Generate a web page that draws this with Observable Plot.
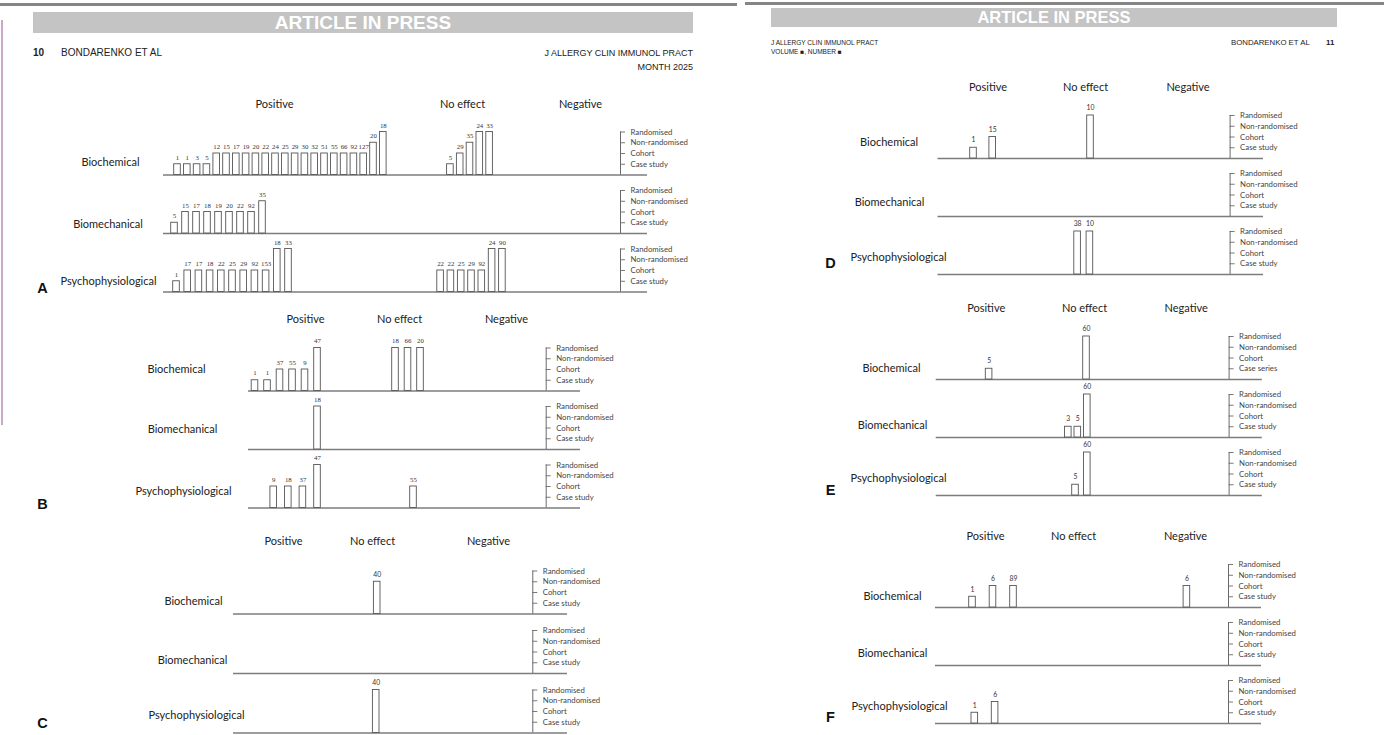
<!DOCTYPE html>
<html>
<head>
<meta charset="utf-8">
<script src="https://cdn.jsdelivr.net/npm/d3@7"></script>
<script src="https://cdn.jsdelivr.net/npm/@observablehq/plot@0.6"></script>
<style>
  body { margin: 0; background: #fff; }
  #page { position: relative; width: 1384px; height: 735px; overflow: hidden; font-family: "Liberation Sans", Arial, sans-serif; color: #222; }
  .abs { position: absolute; white-space: nowrap; }
  .banner { background: #c4c4c4; color: #fff; font-weight: bold; text-align: center; }
</style>
</head>
<body>
<div id="page">
  <div class="abs" style="left:0;top:3px;width:737px;height:3px;background:#858585"></div>
  <div class="abs" style="left:745px;top:2px;width:639px;height:3px;background:#858585"></div>
  <div class="abs" style="left:1px;top:20px;width:2px;height:405px;background:#c9a8c9"></div>

  <div class="abs banner" style="left:33px;top:12px;width:660px;height:21px;font-size:19px;line-height:21px">ARTICLE IN PRESS</div>
  <div class="abs banner" style="left:771px;top:8px;width:566px;height:19px;font-size:16.5px;line-height:19px">ARTICLE IN PRESS</div>

  <div class="abs" style="left:33px;top:47px;font-size:10px;font-weight:bold">10</div>
  <div class="abs" style="left:61px;top:47px;font-size:10px">BONDARENKO ET AL</div>
  <div class="abs" style="left:433px;top:48px;width:260px;text-align:right;font-size:9px">J ALLERGY CLIN IMMUNOL PRACT</div>
  <div class="abs" style="left:433px;top:62px;width:260px;text-align:right;font-size:9px">MONTH 2025</div>

  <div class="abs" style="left:771px;top:39px;font-size:6.5px">J ALLERGY CLIN IMMUNOL PRACT</div>
  <div class="abs" style="left:771px;top:48px;font-size:6.5px">VOLUME ■, NUMBER ■</div>
  <div class="abs" style="left:1231px;top:38px;font-size:7.8px">BONDARENKO ET AL</div>
  <div class="abs" style="left:1326px;top:38px;font-size:7.8px;font-weight:bold">11</div>
</div>
<script>
// ---------- DATA ----------
const rows = ["Biochemical", "Biomechanical", "Psychophysiological"];
const effects = ["Positive", "No effect", "Negative"];
// design codes: S = case study, C = cohort, N = non-randomised, R = randomised
const designLevel = {S: 1, C: 2, N: 3, R: 4};
const designNames = ["Case study", "Cohort", "Non-randomised", "Randomised"];

const studiesA = [
  {row: "Biochemical", effect: "Positive", refs: [1, 1, 3, 5, 12, 15, 17, 19, 20, 22, 24, 25, 29, 30, 32, 51, 55, 66, 92, 127, 20, 18], design: "SSSSCCCCCCCCCCCCCCCCNR"},
  {row: "Biochemical", effect: "No effect", refs: [5, 29, 35, 24, 33], design: "SCNRR"},
  {row: "Biomechanical", effect: "Positive", refs: [5, 15, 17, 18, 19, 20, 22, 92, 35], design: "SCCCCCCCN"},
  {row: "Psychophysiological", effect: "Positive", refs: [1, 17, 17, 18, 22, 25, 29, 92, 153, 18, 33], design: "SCCCCCCCCRR"},
  {row: "Psychophysiological", effect: "No effect", refs: [22, 22, 25, 29, 92, 24, 90], design: "CCCCCRR"}
];
const studiesB = [
  {row: "Biochemical", effect: "Positive", refs: [1, 1, 37, 55, 9, 47], design: "SSCCCR"},
  {row: "Biochemical", effect: "No effect", refs: [18, 66, 20], design: "RRR"},
  {row: "Biomechanical", effect: "Positive", refs: [18], design: "R"},
  {row: "Psychophysiological", effect: "Positive", refs: [9, 18, 37, 47], design: "CCCR"},
  {row: "Psychophysiological", effect: "No effect", refs: [55], design: "C"}
];
const studiesC = [
  {row: "Biochemical", effect: "No effect", refs: [40], design: "N"},
  {row: "Psychophysiological", effect: "No effect", refs: [40], design: "R"}
];
const studiesD = [
  {row: "Biochemical", effect: "Positive", refs: [1, 15], design: "SC"},
  {row: "Biochemical", effect: "No effect", refs: [10], design: "R"},
  {row: "Psychophysiological", effect: "No effect", refs: [38, 10], design: "RR"}
];
const studiesE = [
  {row: "Biochemical", effect: "Positive", refs: [5], design: "S"},
  {row: "Biochemical", effect: "No effect", refs: [60], design: "R"},
  {row: "Biomechanical", effect: "No effect", refs: [3, 5, 60], design: "SSR"},
  {row: "Psychophysiological", effect: "No effect", refs: [5, 60], design: "SR"}
];
const studiesF = [
  {row: "Biochemical", effect: "Positive", refs: [1, 6, 89], design: "SCC"},
  {row: "Biochemical", effect: "Negative", refs: [6], design: "C"},
  {row: "Psychophysiological", effect: "Positive", refs: [1, 6], design: "SC"}
];

// ---------- LAYOUT (page pixels) ----------
const LEVEL_PX = 10.75;
const layouts = {
  A: {studies: studiesA, x0: 0, x1: 738, base0: 174, rowH: 58.5, axis: [163, 647], bracket: 620,
      labelX: [110, 107.5, 108], labelDy: [13, 9.5, 11], heads: [274, 462, 580], headDy: 71,
      letter: [42, 4], refFont: "Liberation Serif", refDy: 6.5,
      groups: {"Biochemical|Positive": [177, "left", 9.8], "Biochemical|No effect": [469.5, "center", 9.8],
               "Biomechanical|Positive": [174, "left", 11], "Psychophysiological|Positive": [176, "left", 11.2],
               "Psychophysiological|No effect": [471, "center", 10.3]}},
  B: {studies: studiesB, x0: 0, x1: 738, base0: 390, rowH: 58.5, axis: [248, 580], bracket: 545.7,
      labelX: [176, 182, 183], labelDy: [22, 20, 17], heads: [305, 399, 506], headDy: 72,
      letter: [42, 4], refFont: "Liberation Serif", refDy: 7,
      groups: {"Biochemical|Positive": [317, "right", 12.5], "Biochemical|No effect": [407.5, "center", 12.5],
               "Biomechanical|Positive": [317, "right", 12.5], "Psychophysiological|Positive": [317, "right", 14.6],
               "Psychophysiological|No effect": [413, "center", 12]}},
  C: {studies: studiesC, x0: 0, x1: 738, base0: 613, rowH: 59.5, axis: [233, 567], bracket: 532.3,
      labelX: [193, 192, 196], labelDy: [13, 13, 18], heads: [283, 372, 488], headDy: 73,
      letter: [42, 10], refFont: "Lato", refDy: 7,
      groups: {"Biochemical|No effect": [376.7, "center", 10], "Psychophysiological|No effect": [375.7, "center", 10]}},
  D: {studies: studiesD, x0: 738, x1: 1384, base0: 158.3, rowH: 58, axis: [937.5, 1263], bracket: 1229.6,
      labelX: [888.6, 889, 898], labelDy: [15.6, 13.6, 16.6], heads: [987.5, 1085, 1187.5], headDy: 71.3,
      letter: [830, 11], refFont: "Lato", refDy: 7.5,
      groups: {"Biochemical|Positive": [973, "left", 19.2], "Biochemical|No effect": [1090, "right", 12],
               "Psychophysiological|No effect": [1089.4, "right", 12.3]}},
  E: {studies: studiesE, x0: 738, x1: 1384, base0: 379, rowH: 58, axis: [935.7, 1261.8], bracket: 1228.6,
      labelX: [891, 892, 898], labelDy: [11, 12, 17], heads: [985.7, 1084, 1185.7], headDy: 71,
      letter: [830, 5], refFont: "Lato", refDy: 7.5, caseSeriesRow: "Biochemical",
      groups: {"Biochemical|Positive": [988.6, "left", 10], "Biochemical|No effect": [1086, "right", 10],
               "Biomechanical|No effect": [1086.8, "right", 9.5], "Psychophysiological|No effect": [1086.8, "right", 11.8]}},
  F: {studies: studiesF, x0: 738, x1: 1384, base0: 607, rowH: 58, axis: [935, 1261], bracket: 1228,
      labelX: [892, 892, 899], labelDy: [11, 12, 17], heads: [985, 1073, 1185], headDy: 71,
      letter: [830, 6], refFont: "Lato", refDy: 7,
      groups: {"Biochemical|Positive": [972, "left", 20.5], "Biochemical|Negative": [1186.4, "center", 10],
               "Psychophysiological|Positive": [974.3, "left", 20.3]}}
};

const page = document.getElementById("page");
const MT = 28, MB = 14;

for (const [name, cfg] of Object.entries(layouts)) {
  const U = cfg.rowH / LEVEL_PX;
  const ry = (row, level) => (2 - rows.indexOf(row)) * U + level;
  const bars = [];
  for (const s of cfg.studies) {
    const [anchor, align, step] = cfg.groups[s.row + "|" + s.effect];
    const n = s.refs.length;
    s.refs.forEach((ref, i) => {
      const off = align === "left" ? i : align === "right" ? i - (n - 1) : i - (n - 1) / 2;
      bars.push({row: s.row, ref, level: designLevel[s.design[i]], x: anchor + off * step});
    });
  }
  const legend = rows.flatMap((r) => designNames.map((nm, i) => ({
    row: r, level: i + 1, name: (cfg.caseSeriesRow === r && i === 0) ? "Case series" : nm
  })));
  const rowLabels = rows.map((r, i) => ({r, i}));
  const height = MT + 3 * cfg.rowH + MB;
  const BW = 3.3;
  const chart = Plot.plot({
    width: cfg.x1 - cfg.x0, height,
    marginLeft: 0, marginRight: 0, marginTop: MT, marginBottom: MB,
    x: {domain: [cfg.x0, cfg.x1], axis: null},
    y: {domain: [0, 3 * U], axis: null},
    style: {background: "transparent", overflow: "visible", color: "#222"},
    marks: [
      // baselines
      Plot.ruleY(rows, {y: (r) => ry(r, 0), x1: () => cfg.axis[0], x2: () => cfg.axis[1], stroke: "#7d7d7d", strokeWidth: 1.3}),
      // legend brackets (study design scale)
      Plot.ruleX(rows, {x: () => cfg.bracket, y1: (r) => ry(r, 0), y2: (r) => ry(r, 4), stroke: "#6a6a6a", strokeWidth: 1}),
      Plot.ruleY(legend, {y: (d) => ry(d.row, d.level), x1: () => cfg.bracket, x2: () => cfg.bracket + 5, stroke: "#6a6a6a", strokeWidth: 0.9}),
      Plot.text(legend, {y: (d) => ry(d.row, d.level), x: () => cfg.bracket + 10, text: "name", textAnchor: "start",
        fontSize: 7.8, fontFamily: "Lato", fill: "#444"}),
      // bars
      Plot.rectY(bars, {x1: (d) => d.x - BW, x2: (d) => d.x + BW, y1: (d) => ry(d.row, 0), y2: (d) => ry(d.row, d.level),
        fill: "white", stroke: "#555", strokeWidth: 0.9}),
      Plot.text(bars, {x: "x", y: (d) => ry(d.row, d.level), text: (d) => String(d.ref), dy: -cfg.refDy,
        fontSize: 6.8, fontFamily: cfg.refFont, fill: "#333"}),
      // row labels
      Plot.text(rowLabels, {x: (d) => cfg.labelX[d.i], y: (d) => ry(d.r, 0) + cfg.labelDy[d.i] / LEVEL_PX,
        text: "r", fontSize: 11, fontFamily: "Lato", fill: "#222"}),
      // headings
      Plot.text(effects, {x: (d, i) => cfg.heads[i], y: () => ry("Biochemical", 0), dy: -cfg.headDy, text: (d) => d,
        fontSize: 11, fontFamily: "Lato", fill: "#222"}),
      // panel letter
      Plot.text([name], {x: () => cfg.letter[0], y: () => ry("Psychophysiological", 0), dy: -cfg.letter[1], text: (d) => d,
        fontSize: 14.5, fontWeight: "bold", fontFamily: "Liberation Sans", fill: "#111"})
    ]
  });
  chart.style.position = "absolute";
  chart.style.left = cfg.x0 + "px";
  chart.style.top = (cfg.base0 - cfg.rowH - MT) + "px";
  chart.style.maxWidth = "none";
  page.appendChild(chart);
}
</script>
</body>
</html>
